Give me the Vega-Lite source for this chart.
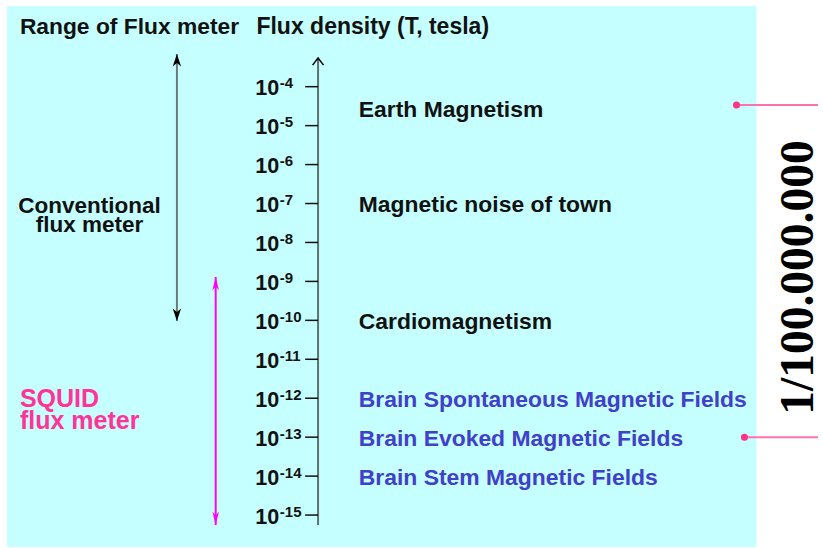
{
  "$schema": "https://vega.github.io/schema/vega-lite/v6.json",
  "width": 823,
  "height": 548,
  "autosize": {"type": "fit", "contains": "padding"},
  "padding": 0,
  "background": "white",
  "view": {"stroke": null},
  "config": {"text": {"font": "Liberation Sans", "fontWeight": "bold", "color": "#111111"}},
  "datasets": {
    "ticks": [
      {"exp": -4, "base": "10", "power": "-4"},
      {"exp": -5, "base": "10", "power": "-5"},
      {"exp": -6, "base": "10", "power": "-6"},
      {"exp": -7, "base": "10", "power": "-7"},
      {"exp": -8, "base": "10", "power": "-8"},
      {"exp": -9, "base": "10", "power": "-9"},
      {"exp": -10, "base": "10", "power": "-10"},
      {"exp": -11, "base": "10", "power": "-11"},
      {"exp": -12, "base": "10", "power": "-12"},
      {"exp": -13, "base": "10", "power": "-13"},
      {"exp": -14, "base": "10", "power": "-14"},
      {"exp": -15, "base": "10", "power": "-15"}
    ],
    "phenomena": [
      {"label": "Earth Magnetism", "exp": -4.57, "group": "environment"},
      {"label": "Magnetic noise of town", "exp": -7, "group": "environment"},
      {"label": "Cardiomagnetism", "exp": -10, "group": "environment"},
      {"label": "Brain Spontaneous Magnetic Fields", "exp": -12, "group": "brain"},
      {"label": "Brain Evoked Magnetic Fields", "exp": -13, "group": "brain"},
      {"label": "Brain Stem Magnetic Fields", "exp": -14, "group": "brain"}
    ]
  },
  "layer": [
    {
      "data": {"values": [{"item": "panel"}]},
      "mark": {"type": "rect", "fill": "#c6ffff"},
      "encoding": {
        "x": {"datum": 7, "type": "quantitative", "scale": {"domain": [0, 823], "nice": false, "zero": false}, "axis": null},
        "x2": {"datum": 761},
        "y": {"datum": -1.928, "type": "quantitative", "scale": {"domain": [-15.846, -1.774], "nice": false, "zero": false}, "axis": null},
        "y2": {"datum": -15.821}
      }
    },
    {
      "data": {"values": [{"exp": -4.47}]},
      "mark": {"type": "rule", "color": "#ff70ae", "strokeWidth": 2},
      "encoding": {
        "x": {"datum": 741, "type": "quantitative"},
        "x2": {"datum": 823},
        "y": {"field": "exp", "type": "quantitative"}
      }
    },
    {
      "data": {"values": [{"exp": -13}]},
      "mark": {"type": "rule", "color": "#ff70ae", "strokeWidth": 2},
      "encoding": {
        "x": {"datum": 749, "type": "quantitative"},
        "x2": {"datum": 823},
        "y": {"field": "exp", "type": "quantitative"}
      }
    },
    {
      "data": {"values": [{"exp": -4.47}]},
      "mark": {"type": "point", "filled": true, "color": "#ff3388", "size": 50, "opacity": 1},
      "encoding": {
        "x": {"datum": 741, "type": "quantitative"},
        "y": {"field": "exp", "type": "quantitative"}
      }
    },
    {
      "data": {"values": [{"exp": -13}]},
      "mark": {"type": "point", "filled": true, "color": "#ff3388", "size": 50, "opacity": 1},
      "encoding": {
        "x": {"datum": 749, "type": "quantitative"},
        "y": {"field": "exp", "type": "quantitative"}
      }
    },
    {
      "data": {"values": [{"label": "1/100.000.000", "exp": -8.9}]},
      "mark": {"type": "text", "font": "Liberation Serif", "fontWeight": "bold", "fontSize": 47.5, "angle": 270, "align": "center", "baseline": "alphabetic", "color": "#000000"},
      "encoding": {
        "x": {"datum": 818, "type": "quantitative"},
        "y": {"field": "exp", "type": "quantitative"},
        "text": {"field": "label"}
      }
    },
    {
      "data": {"values": [{"top": -3.263, "bottom": -15.256}]},
      "mark": {"type": "rule", "color": "#5f7070", "strokeWidth": 2},
      "encoding": {
        "x": {"datum": 320, "type": "quantitative"},
        "y": {"field": "top", "type": "quantitative"},
        "y2": {"field": "bottom"}
      }
    },
    {
      "data": {"values": [{"top": -3.263}]},
      "mark": {"type": "point", "shape": "M-1,1.3L0,0L1,1.3", "filled": false, "color": "#000000", "strokeWidth": 1.5, "size": 121, "opacity": 1},
      "encoding": {
        "x": {"datum": 320, "type": "quantitative"},
        "y": {"field": "top", "type": "quantitative"}
      }
    },
    {
      "data": {"name": "ticks"},
      "mark": {"type": "rule", "color": "#111111", "strokeWidth": 1.5},
      "encoding": {
        "x": {"datum": 307, "type": "quantitative"},
        "x2": {"datum": 320},
        "y": {"field": "exp", "type": "quantitative"}
      }
    },
    {
      "data": {"name": "ticks"},
      "mark": {"type": "text", "fontSize": 21.5, "align": "right", "baseline": "alphabetic", "dy": 8.5},
      "encoding": {
        "x": {"datum": 281, "type": "quantitative"},
        "y": {"field": "exp", "type": "quantitative"},
        "text": {"field": "base"}
      }
    },
    {
      "data": {"name": "ticks"},
      "mark": {"type": "text", "fontSize": 15, "align": "left", "baseline": "alphabetic", "dy": 1.5},
      "encoding": {
        "x": {"datum": 281.5, "type": "quantitative"},
        "y": {"field": "exp", "type": "quantitative"},
        "text": {"field": "power"}
      }
    },
    {
      "data": {"name": "phenomena"},
      "mark": {"type": "text", "fontSize": 22.9, "align": "left", "baseline": "alphabetic", "dy": 8.5},
      "encoding": {
        "x": {"datum": 361, "type": "quantitative"},
        "y": {"field": "exp", "type": "quantitative"},
        "text": {"field": "label"},
        "color": {"field": "group", "type": "nominal", "scale": {"domain": ["environment", "brain"], "range": ["#111111", "#4040c8"]}, "legend": null}
      }
    },
    {
      "data": {"values": [{"label": "Range of Flux meter", "exp": -2.647}]},
      "mark": {"type": "text", "fontSize": 22.8, "align": "left", "baseline": "alphabetic"},
      "encoding": {
        "x": {"datum": 20, "type": "quantitative"},
        "y": {"field": "exp", "type": "quantitative"},
        "text": {"field": "label"}
      }
    },
    {
      "data": {"values": [{"label": "Flux density (T, tesla)", "exp": -2.647}]},
      "mark": {"type": "text", "fontSize": 23, "align": "left", "baseline": "alphabetic"},
      "encoding": {
        "x": {"datum": 258, "type": "quantitative"},
        "y": {"field": "exp", "type": "quantitative"},
        "text": {"field": "label"}
      }
    },
    {
      "data": {"values": [{"label": "Conventional\nflux meter", "exp": -7}]},
      "mark": {"type": "text", "fontSize": 22.5, "align": "center", "baseline": "alphabetic", "dy": 9.7, "lineBreak": "\n", "lineHeight": 19},
      "encoding": {
        "x": {"datum": 90, "type": "quantitative"},
        "y": {"field": "exp", "type": "quantitative"},
        "text": {"field": "label"}
      }
    },
    {
      "data": {"values": [{"label": "SQUID\nflux meter", "exp": -12}]},
      "mark": {"type": "text", "fontSize": 25, "align": "left", "baseline": "alphabetic", "dy": 8.7, "lineBreak": "\n", "lineHeight": 22, "color": "#ff3399"},
      "encoding": {
        "x": {"datum": 20, "type": "quantitative"},
        "y": {"field": "exp", "type": "quantitative"},
        "text": {"field": "label"}
      }
    },
    {
      "data": {"values": [{"hi": -3.16, "lo": -10.02}]},
      "mark": {"type": "rule", "color": "#6a7a7a", "strokeWidth": 2},
      "encoding": {
        "x": {"datum": 178, "type": "quantitative"},
        "y": {"field": "hi", "type": "quantitative"},
        "y2": {"field": "lo"}
      }
    },
    {
      "data": {"values": [{"hi": -3.16}]},
      "mark": {"type": "point", "shape": "M0,0L0.7,2.1L0,1.5L-0.7,2.1Z", "filled": true, "color": "#000000", "size": 144, "opacity": 1},
      "encoding": {
        "x": {"datum": 178, "type": "quantitative"},
        "y": {"field": "hi", "type": "quantitative"}
      }
    },
    {
      "data": {"values": [{"lo": -10.02}]},
      "mark": {"type": "point", "shape": "M0,0L0.7,-2.1L0,-1.5L-0.7,-2.1Z", "filled": true, "color": "#000000", "size": 144, "opacity": 1},
      "encoding": {
        "x": {"datum": 178, "type": "quantitative"},
        "y": {"field": "lo", "type": "quantitative"}
      }
    },
    {
      "data": {"values": [{"hi": -8.887, "lo": -15.256}]},
      "mark": {"type": "rule", "color": "#ff00ff", "strokeWidth": 2},
      "encoding": {
        "x": {"datum": 217, "type": "quantitative"},
        "y": {"field": "hi", "type": "quantitative"},
        "y2": {"field": "lo"}
      }
    },
    {
      "data": {"values": [{"hi": -8.887}]},
      "mark": {"type": "point", "shape": "M0,0L0.55,2.2L0,1.6L-0.55,2.2Z", "filled": true, "color": "#ff00ff", "size": 144, "opacity": 1},
      "encoding": {
        "x": {"datum": 217, "type": "quantitative"},
        "y": {"field": "hi", "type": "quantitative"}
      }
    },
    {
      "data": {"values": [{"lo": -15.256}]},
      "mark": {"type": "point", "shape": "M0,0L0.55,-2.2L0,-1.6L-0.55,-2.2Z", "filled": true, "color": "#ff00ff", "size": 144, "opacity": 1},
      "encoding": {
        "x": {"datum": 217, "type": "quantitative"},
        "y": {"field": "lo", "type": "quantitative"}
      }
    }
  ]
}
